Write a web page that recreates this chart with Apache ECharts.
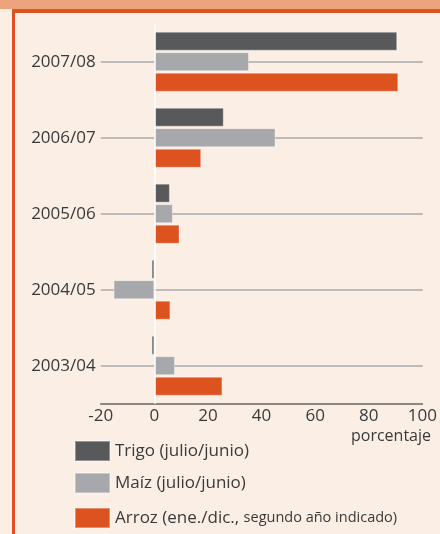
<!DOCTYPE html>
<html>
<head>
<meta charset="utf-8">
<script src="https://cdn.jsdelivr.net/npm/echarts@6/dist/echarts.min.js"></script>
<style>
  html, body { margin: 0; padding: 0; background: #fbeee5; }
  #chart { width: 440px; height: 534px; }
</style>
</head>
<body>
<div id="chart"></div>
<script>
// campañas (de arriba a abajo)
const years = ['2007/08', '2006/07', '2005/06', '2004/05', '2003/04'];
// variación en porcentaje
const trigo = [90.6, 25.9, 5.8, -1.0, -1.0];
const maiz = [35.3, 45.2, 6.9, -15.2, 7.7];
const arroz = [91.0, 17.5, 9.4, 6.0, 25.4];
const xTicks = [-20, 0, 20, 40, 60, 80, 100];

const font = 'Open Sans';
const txt = '#3a3a3a';

const barStyle = (color) => ({
  color: color,
  borderColor: 'rgba(255,255,255,0.35)',
  borderWidth: 1
});

const legendBox = (name, top) => ({
  data: [name], left: 69, top: top, itemWidth: 35, itemHeight: 20, itemGap: 6,
  icon: 'rect', selectedMode: false,
  textStyle: { color: txt, fontSize: 17, fontFamily: font }
});

const chart = echarts.init(document.getElementById('chart'));

const option = {
  backgroundColor: '#fbeee5',
  animation: false,
  textStyle: { fontFamily: font },
  graphic: [
    // marco superior e izquierdo
    { type: 'rect', shape: { x: 0, y: 0, width: 440, height: 9 }, style: { fill: '#eda37b' }, silent: true },
    { type: 'rect', shape: { x: 12, y: 9, width: 428, height: 4 }, style: { fill: '#dc531f' }, silent: true },
    { type: 'rect', shape: { x: 12, y: 9, width: 3, height: 525 }, style: { fill: '#dc531f' }, silent: true },
    {
      type: 'text', right: 9, top: 428,
      style: { text: 'porcentaje', font: '16px "Open Sans"', fill: txt }
    }
  ],
  grid: { left: 100.7, right: 17.3, top: 23.7, height: 380 },
  xAxis: {
    type: 'value',
    min: xTicks[0],
    max: xTicks[xTicks.length - 1],
    interval: 20,
    splitLine: { show: false },
    axisTick: { show: false },
    axisLine: { show: true, onZero: false, lineStyle: { color: '#6b6461', width: 1.5 } },
    axisLabel: { color: txt, fontSize: 17, margin: 4, fontFamily: font }
  },
  yAxis: {
    type: 'category',
    data: years,
    inverse: true,
    axisLine: { show: false, onZero: false },
    axisTick: {
      show: true, inside: true, alignWithLabel: true, length: 322,
      lineStyle: { color: '#aaaaaa', width: 1.5 }
    },
    axisLabel: { color: txt, fontSize: 17, margin: 5, fontFamily: font }
  },
  legend: [
    legendBox('Trigo (julio/junio)', 435),
    legendBox('Maíz (julio/junio)', 467),
    Object.assign(legendBox('Arroz (ene./dic., segundo año indicado)', 502), {
      formatter: () => '{a|Arroz (ene./dic., }{b|segundo año indicado)}',
      textStyle: {
        color: txt, fontFamily: font,
        rich: {
          a: { fontSize: 17, color: txt, fontFamily: font },
          b: { fontSize: 14.5, color: txt, fontFamily: font }
        }
      }
    })
  ],
  series: [
    {
      name: 'Trigo (julio/junio)', type: 'bar', data: trigo,
      barWidth: 19, barGap: '8%', itemStyle: barStyle('#58595b'),
      markLine: {
        silent: true, symbol: 'none', label: { show: false },
        lineStyle: { color: '#ffffff', type: 'solid', width: 1.5 },
        data: [{ xAxis: 0 }]
      }
    },
    {
      name: 'Maíz (julio/junio)', type: 'bar', data: maiz,
      barWidth: 19, barGap: '8%', itemStyle: barStyle('#a7a8ab')
    },
    {
      name: 'Arroz (ene./dic., segundo año indicado)', type: 'bar', data: arroz,
      barWidth: 19, barGap: '8%', itemStyle: barStyle('#dc531f')
    }
  ]
};

chart.setOption(option);
</script>
</body>
</html>
